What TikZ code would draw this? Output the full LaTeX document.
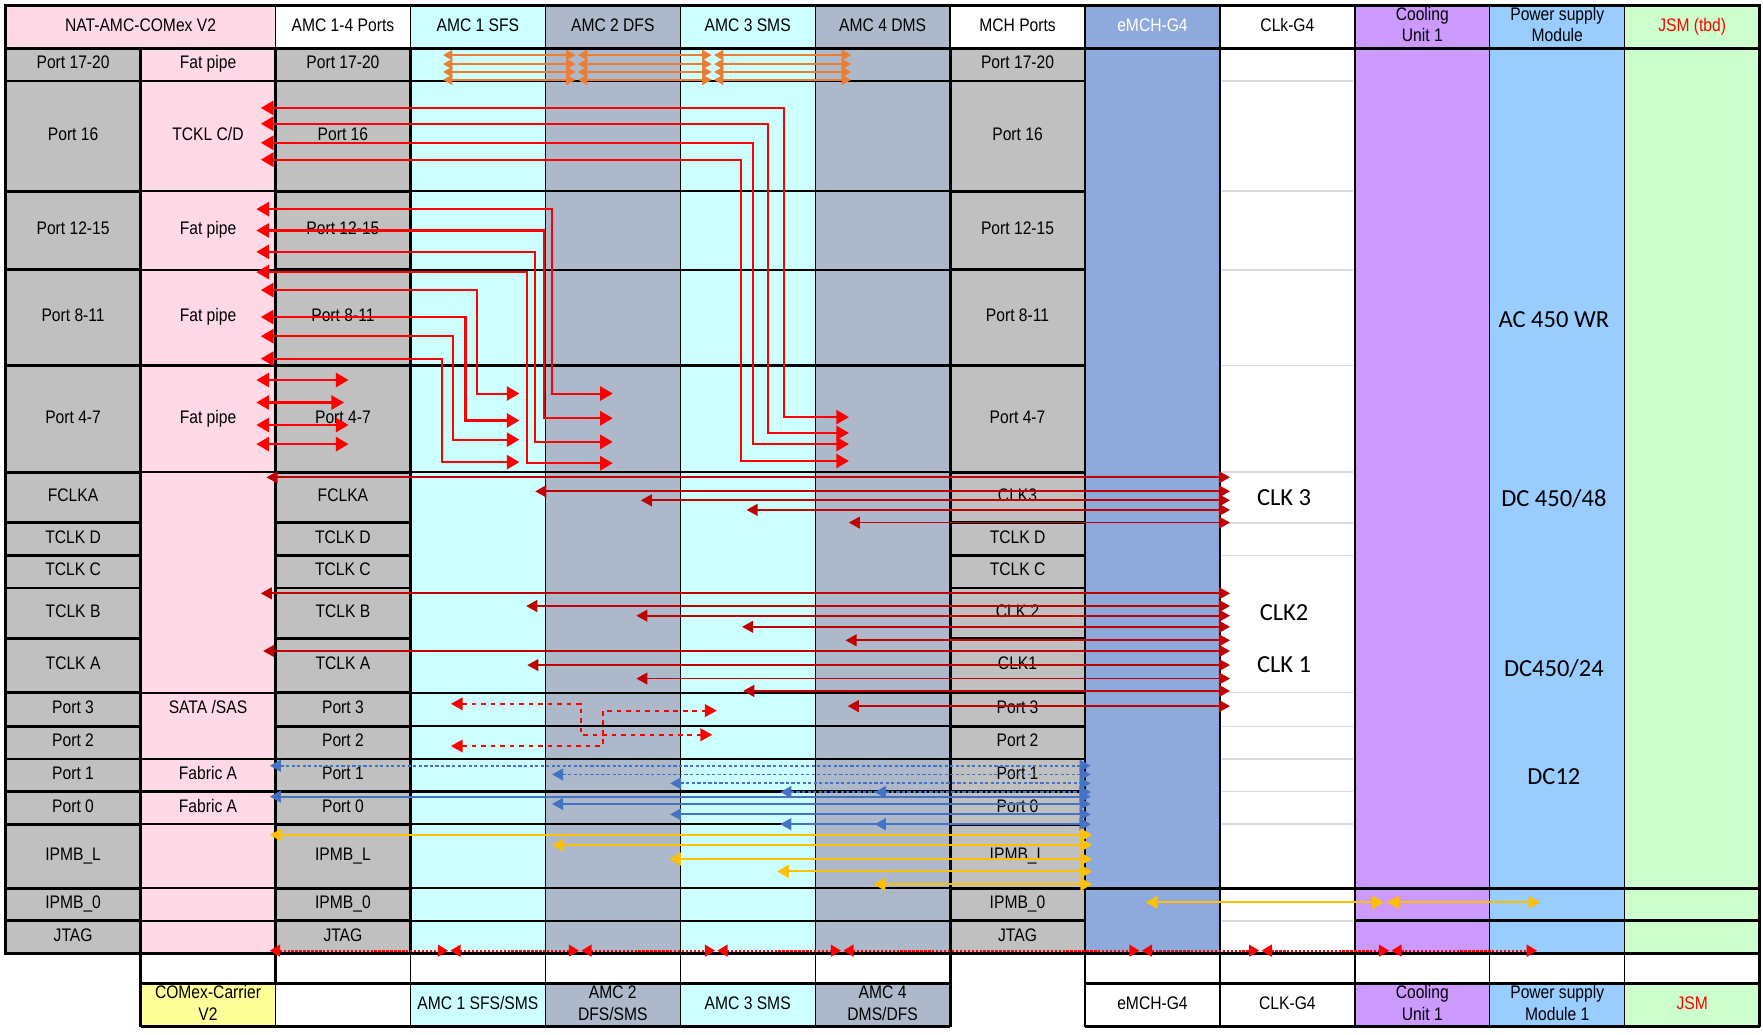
\documentclass[tikz,border=0pt]{standalone}
\usepackage{fontspec}
\setmainfont{Liberation Sans}
\newfontfamily\bigfont{Carlito}
\usetikzlibrary{arrows.meta}

\definecolor{natpink}{HTML}{FFDAE6}
\definecolor{portgray}{HTML}{C0C0C0}
\definecolor{sfscyan}{HTML}{CCFFFF}
\definecolor{dfsslate}{HTML}{ADB9CA}
\definecolor{emchblue}{HTML}{8EA9DB}
\definecolor{coolpurple}{HTML}{CC99FF}
\definecolor{psublue}{HTML}{99CCFF}
\definecolor{jsmgreen}{HTML}{CCFFCC}
\definecolor{carrieryellow}{HTML}{FFFF99}
\definecolor{clkred}{HTML}{C00000}
\definecolor{pipeorange}{HTML}{ED7D31}
\definecolor{fabricblue}{HTML}{4472C4}
\definecolor{ipmbyellow}{HTML}{FFC000}

% narrow cell text
\newcommand{\nt}[1]{\scalebox{0.86}[1]{\begin{tabular}{@{}c@{}}#1\end{tabular}}}
% style, name, x1, y1, x2, y2, text
\newcommand{\boxcell}[7]{%
  \draw[#1] (#3,#4) rectangle (#5,#6);
  \node[lbl] (#2) at ({(#3+#5)/2},{(#4+#6)/2}) {\nt{#7}};}

\begin{document}
\begin{tikzpicture}[
    x=0.025cm, y=-0.025cm,
    lbl/.style={inner sep=0pt, font=\fontsize{11.5}{13.4}\selectfont},
    big/.style={inner sep=0pt, font=\bigfont\fontsize{15.5}{18}\selectfont},
    portbox/.style={draw=black, fill=portgray, line width=1.8pt},
    hdr/.style={draw=black, line width=0.8pt},
    frame/.style={line width=1.8pt},
    rowrule/.style={line width=1.4pt},
    thinrule/.style={line width=0.8pt},
    lightrule/.style={draw=black!15, line width=1pt},
    pipe17/.style={draw=pipeorange, line width=1pt, >={Triangle[length=6pt,width=6.5pt]}, <->},
    fatpipe/.style={draw=red, line width=1.3pt, >={Triangle[length=8pt,width=9pt]}, <->},
    clkline/.style={draw=clkred, line width=1.1pt, >={Triangle[length=7pt,width=7.5pt]}, <->},
    satapath/.style={draw=red, line width=1.2pt, dashed, >={Triangle[length=7.5pt,width=8pt]}, <->},
    fabdot/.style={draw=fabricblue, line width=1.1pt, dash pattern=on 2pt off 1.5pt, >={Triangle[length=7pt,width=7.5pt]}, <->},
    fabline/.style={draw=fabricblue, line width=1.2pt, >={Triangle[length=7pt,width=7.5pt]}, <->},
    ipmb/.style={draw=ipmbyellow, line width=1.3pt, >={Triangle[length=7.5pt,width=8pt]}, <->},
    jtagline/.style={draw=red, line width=1.3pt, dash pattern=on 1.5pt off 1pt, >={Triangle[length=6.5pt,width=7.5pt]}, <->}
]
    \fill[white] (0,0) rectangle (1568,920);
    \useasboundingbox (0,0) rectangle (1568,920);

    % Column fills
    \fill[natpink] (125,43) rectangle (245,848);
    \fill[sfscyan] (365,43) rectangle (485,848);
    \fill[dfsslate] (485,43) rectangle (605,848);
    \fill[sfscyan] (605,43) rectangle (725,848);
    \fill[dfsslate] (725,43) rectangle (845,848);
    \fill[emchblue] (965,43) rectangle (1085,848);
    \fill[coolpurple] (1205,43) rectangle (1325,848);
    \fill[psublue] (1325,43) rectangle (1445,848);
    \fill[jsmgreen] (1445,43) rectangle (1565,848);

    % Row rules
    \foreach \y in {72,170,240,325,420,465,494,616,646,675,704,733,819}
        \draw[lightrule] (1087,\y) -- (1203,\y);
    \foreach \y in {72,170,240,325,420,616,646,675,704,733,790,819}
        \draw[rowrule] (365,\y) -- (845,\y);
    \foreach \y in {72,170,240,325,420,616,675,704,733,790,819}
        \draw[rowrule] (125,\y) -- (245,\y);
    \draw[frame] (965,790) -- (1565,790);
    \draw[frame] (1205,819) -- (1565,819);

    % Column rules
    \foreach \x in {365,485,605,725,1085,1205,1325,1445}
        \draw[thinrule] (\x,5) -- (\x,913);
    \draw[frame] (125,43) -- (125,913);
    \draw[frame] (245,5) -- (245,913);
    \draw[frame] (845,5) -- (845,913);
    \draw[frame] (965,5) -- (965,913);

    % Top headers
    \boxcell{hdr, fill=natpink}{h-nat}{5}{5}{245}{43}{NAT-AMC-COMex V2}
    \boxcell{hdr, fill=white}{h-ports}{245}{5}{365}{43}{AMC 1-4 Ports}
    \boxcell{hdr, fill=sfscyan}{h-amc1}{365}{5}{485}{43}{AMC 1 SFS}
    \boxcell{hdr, fill=dfsslate}{h-amc2}{485}{5}{605}{43}{AMC 2 DFS}
    \boxcell{hdr, fill=sfscyan}{h-amc3}{605}{5}{725}{43}{AMC 3 SMS}
    \boxcell{hdr, fill=dfsslate}{h-amc4}{725}{5}{845}{43}{AMC 4 DMS}
    \boxcell{hdr, fill=white}{h-mch}{845}{5}{965}{43}{MCH Ports}
    \boxcell{hdr, fill=emchblue}{h-emch}{965}{5}{1085}{43}{\color{white}eMCH-G4}
    \boxcell{hdr, fill=white}{h-clk}{1085}{5}{1205}{43}{CLk-G4}
    \boxcell{hdr, fill=coolpurple}{h-cool}{1205}{5}{1325}{43}{Cooling\\Unit 1}
    \boxcell{hdr, fill=psublue}{h-psu}{1325}{5}{1445}{43}{Power supply\\Module}
    \boxcell{hdr, fill=jsmgreen}{h-jsm}{1445}{5}{1565}{43}{\color{red}JSM (tbd)}

    % Port cells
    \foreach \t/\b/\lab/\mch [count=\i] in {
        43/72/Port 17-20/Port 17-20, 72/170/Port 16/Port 16,
        170/240/Port 12-15/Port 12-15, 240/325/Port 8-11/Port 8-11,
        325/420/Port 4-7/Port 4-7, 420/465/FCLKA/CLK3,
        465/494/TCLK D/TCLK D, 494/523/TCLK C/TCLK C,
        523/568/TCLK B/CLK 2, 568/616/TCLK A/CLK1,
        616/646/Port 3/Port 3, 646/675/Port 2/Port 2,
        675/704/Port 1/Port 1, 704/733/Port 0/Port 0,
        733/790/IPMB\_L/IPMB\_L, 790/819/IPMB\_0/IPMB\_0,
        819/848/JTAG/JTAG}{
        \boxcell{portbox}{nat-\i}{5}{\t}{125}{\b}{\lab}
        \boxcell{portbox}{amc-\i}{245}{\t}{365}{\b}{\lab}
        \boxcell{portbox}{mch-\i}{845}{\t}{965}{\b}{\mch}
    }

    % NAT function column
    \node[lbl] (fn-1) at (185,57.5) {\nt{Fat pipe}};
    \node[lbl] (fn-2) at (185,121) {\nt{TCKL C/D}};
    \node[lbl] (fn-3) at (185,205) {\nt{Fat pipe}};
    \node[lbl] (fn-4) at (185,282.5) {\nt{Fat pipe}};
    \node[lbl] (fn-5) at (185,372.5) {\nt{Fat pipe}};
    \node[lbl] (fn-6) at (185,631) {\nt{SATA /SAS}};
    \node[lbl] (fn-7) at (185,689.5) {\nt{Fabric A}};
    \node[lbl] (fn-8) at (185,718.5) {\nt{Fabric A}};

    % Clock and power labels
    \node[big] (clk-3) at (1142,443) {CLK 3};
    \node[big] (clk-2) at (1142,545) {CLK2};
    \node[big] (clk-1) at (1142,591) {CLK 1};
    \node[big] (psu-ac) at (1382,284) {AC 450 WR};
    \node[big] (psu-48) at (1382,443) {DC 450/48};
    \node[big] (psu-24) at (1382,595) {DC450/24};
    \node[big] (psu-12) at (1382,691) {DC12};

    % Outer frame
    \draw[frame] (5,848) -- (5,5) -- (1565,5) -- (1565,913);
    \draw[frame] (5,43) -- (1565,43);
    \draw[frame] (5,848) -- (1565,848);

    % Bottom headers
    \boxcell{hdr, fill=carrieryellow}{b-carrier}{125}{875}{245}{913}{COMex-Carrier\\V2}
    \boxcell{hdr, fill=white}{b-ports}{245}{875}{365}{913}{}
    \boxcell{hdr, fill=sfscyan}{b-amc1}{365}{875}{485}{913}{AMC 1 SFS/SMS}
    \boxcell{hdr, fill=dfsslate}{b-amc2}{485}{875}{605}{913}{AMC 2\\DFS/SMS}
    \boxcell{hdr, fill=sfscyan}{b-amc3}{605}{875}{725}{913}{AMC 3 SMS}
    \boxcell{hdr, fill=dfsslate}{b-amc4}{725}{875}{845}{913}{AMC 4\\DMS/DFS}
    \boxcell{hdr, fill=white}{b-emch}{965}{875}{1085}{913}{eMCH-G4}
    \boxcell{hdr, fill=white}{b-clk}{1085}{875}{1205}{913}{CLK-G4}
    \boxcell{hdr, fill=coolpurple}{b-cool}{1205}{875}{1325}{913}{Cooling\\Unit 1}
    \boxcell{hdr, fill=psublue}{b-psu}{1325}{875}{1445}{913}{Power supply\\Module 1}
    \boxcell{hdr, fill=jsmgreen}{b-jsm}{1445}{875}{1565}{913}{\color{red}JSM}
    \draw[frame] (125,875) -- (845,875) (965,875) -- (1565,875);
    \draw[frame] (125,913) -- (845,913) (965,913) -- (1565,913);
    \draw[frame] (125,848) -- (125,913) (965,848) -- (965,913) (1565,848) -- (1565,913);

    % Arrows - Port 17-20
    \foreach \y in {49,57,64,71} {
        \draw[pipe17] (394,\y) -- (512,\y);
        \draw[pipe17] (514,\y) -- (633,\y);
        \draw[pipe17] (635,\y) -- (757,\y);
    }

    % Arrows - fat pipes
    \foreach \y/\x/\z in {96/697/371, 110/683/385, 127/670/395, 142/659/410}
        \draw[fatpipe] (232,\y) -| (\x,\z) -- (755,\z);
    \foreach \y/\x/\z in {186/491/350, 205/484/372, 224/476/393, 242/469/412}
        \draw[fatpipe] (228,\y) -| (\x,\z) -- (545,\z);
    \foreach \y/\x/\z in {258/424/350, 282/414/374, 299/403/391, 319/393/411}
        \draw[fatpipe] (232,\y) -| (\x,\z) -- (462,\z);
    \foreach \y/\e in {338/310, 358/306, 378/310, 395/310}
        \draw[fatpipe] (228,\y) -- (\e,\y);

    % Arrows - clocks
    \foreach \y/\s in {424.5/237, 437/476, 445/570, 453.5/664, 464.8/755,
                       527.7/232, 539/468, 547.6/566, 557.5/660, 569.5/752,
                       579/234, 591.5/469, 603.5/566, 614.5/661, 628/754}
        \draw[clkline] (\s,\y) -- (1094,\y);

    % Arrows - SATA/SAS
    \draw[satapath] (401,626) -| (516.5,653.5) -- (633.5,653.5);
    \draw[satapath] (401,663.5) -| (536,632) -- (637.5,632);

    % Arrows - fabric A
    \foreach \y/\s in {681/240, 688.8/491, 696.7/596, 704.5/694, 704.5/778}
        \draw[fabdot] (\s,\y) -- (970,\y);
    \foreach \y/\s in {708.5/240, 715/491, 724.3/596, 733/694, 733/778}
        \draw[fabline] (\s,\y) -- (970,\y);

    % Arrows - IPMB
    \foreach \y/\s in {742.6/240, 751.5/491, 764/595, 775/691, 786.5/777}
        \draw[ipmb] (\s,\y) -- (971.5,\y);
    \draw[ipmb] (1019,802.5) -- (1231,802.5);
    \draw[ipmb] (1233.5,802.5) -- (1370,802.5);

    % Arrows - JTAG
    \foreach \s/\e in {240/398.5, 400.5/515, 517/636, 638/748, 750/1013.5,
                       1015.5/1120, 1122/1235.5, 1237.5/1367}
        \draw[jtagline] (\s,845.5) -- (\e,845.5);
\end{tikzpicture}
\end{document}
